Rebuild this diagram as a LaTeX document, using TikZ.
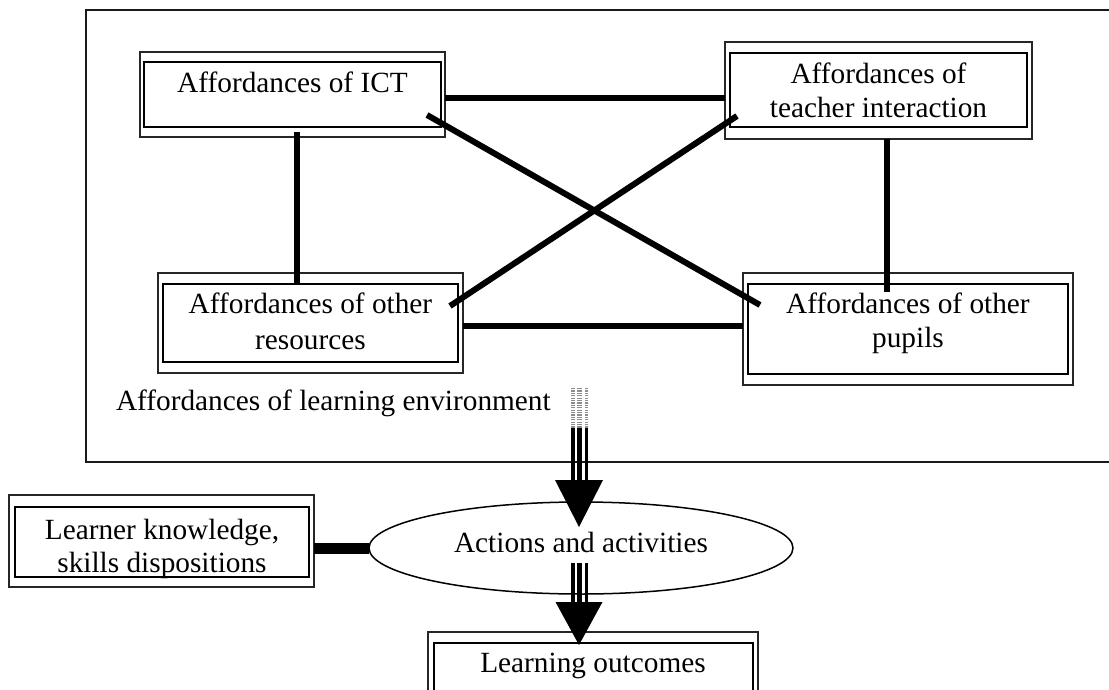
\documentclass[tikz,border=0pt]{standalone}
\usepackage{fontspec}
\setmainfont{Liberation Serif}
\usetikzlibrary{calc,shapes.geometric}
\newcommand\lbfont{\fontsize{29.3}{34}\selectfont}
\begin{document}
\begin{tikzpicture}[x=1pt,y=-1pt,
  outerbox/.style={draw=black!85, line width=1.8pt, rectangle, inner sep=0pt, outer sep=0pt},
  innerbox/.style={draw=black, line width=2.8pt, rectangle, inner sep=0pt, outer sep=0pt},
  lab/.style={font=\lbfont, anchor=base, inner sep=0pt, outer sep=0pt},
  link/.style={line width=6pt, line cap=butt},
  shaftdots/.style={black!45, dash pattern=on 1.2pt off 1.2pt},
  head/.style={fill=black}]
\useasboundingbox (0,0) rectangle (1109,689);
\fill[white] (0,0) rectangle (1109,689);
\clip (0,0) rectangle (1109,689);

% outer frame (learning environment)
\draw[line width=2pt, draw=black!90] (1130,10) -- (86,10) -- (86,462) -- (1130,462);

% ICT
\node[outerbox, minimum width=305pt, minimum height=85pt] (ict) at (292.5,94.5) {};
\node[innerbox, minimum width=297pt, minimum height=65pt] (ict-in) at (292.5,94.5) {};
\node[lab] (ict-t) at (292.5,92) {Affordances of ICT};

% teacher
\node[outerbox, minimum width=307pt, minimum height=97pt] (tea) at (878.5,90.5) {};
\node[innerbox, minimum width=297pt, minimum height=74pt] (tea-in) at (878.5,90) {};
\node[lab] (tea-t1) at (878.5,83) {Affordances of};
\node[lab] (tea-t2) at (878.5,117) {teacher interaction};

% resources
\node[outerbox, minimum width=305pt, minimum height=100pt] (res) at (310.5,323) {};
\node[innerbox, minimum width=295pt, minimum height=78pt] (res-in) at (310.5,323) {};
\node[lab] (res-t1) at (310.5,313) {Affordances of other};
\node[lab] (res-t2) at (310.5,349) {resources};

% pupils
\node[outerbox, minimum width=330pt, minimum height=112pt] (pup) at (908,329) {};
\node[innerbox, minimum width=320pt, minimum height=90pt] (pup-in) at (908,329) {};
\node[lab] (pup-t1) at (908,313) {Affordances of other};
\node[lab] (pup-t2) at (908,347) {pupils};

% environment label
\node[lab, anchor=base west] (env) at (116,410) {Affordances of learning environment};

% links inside the environment
\draw[link] (ict.east |- 0,98) -- (tea.west |- 0,98);
\draw[link] (res.east |- 0,326) -- (pup.west |- 0,326);
\draw[link] ($(ict-in.south -| 297,0)+(0pt,-5pt)$) -- (res-in.north -| 297,0);
\draw[link] (tea.south -| 887,0) -- ($(pup-in.north -| 887,0)+(0pt,-8pt)$);
\draw[link] ($(ict-in.south east)+(-14pt,12pt)$) -- ($(pup-in.north west)+(12pt,-21pt)$);
\draw[link] ($(res-in.north east)+(-8pt,-22pt)$) -- ($(tea-in.south west)+(7pt,11pt)$);

% learner
\node[outerbox, minimum width=305pt, minimum height=92pt] (lrn) at (161.5,541) {};
\node[innerbox, minimum width=294pt, minimum height=70pt] (lrn-in) at (162,542) {};
\node[lab] (lrn-t1) at (162,539) {Learner knowledge,};
\node[lab] (lrn-t2) at (162,572) {skills dispositions};

% actions ellipse
\node[draw, ellipse, line width=1.5pt, minimum width=424pt, minimum height=92pt, inner sep=0pt, outer sep=0pt] (act) at (581,548) {};
\node[lab] (act-t) at (581,552) {Actions and activities};

\draw[line width=11pt] (lrn.east |- act.west) -- (act.west);

% outcomes
\node[outerbox, minimum width=330pt, minimum height=96pt] (out) at (593,680) {};
\node[innerbox, minimum width=319pt, minimum height=84pt] (out-in) at (593.5,685) {};
\node[lab] (out-t) at (593,672) {Learning outcomes};

% arrow 1: environment -> actions
\coordinate (a1top) at (579.5,388);
\coordinate (a1mid) at (579.5,428);
\coordinate (a1hb) at (579.5,482);
\coordinate (a1tip) at ($(act.north)+(-2pt,-25pt)$);
\foreach \dx/\w in {-6.5/3.2, 0/4.2, 6.5/3}{
  \draw[shaftdots, line width=\w pt] ($(a1top)+(\dx pt,0pt)$) -- ($(a1mid)+(\dx pt,0pt)$);
  \draw[line width=\w pt] ($(a1mid)+(\dx pt,0pt)$) -- ($(a1hb)+(\dx pt,0pt)$);
}
\fill[head] (a1tip) -- ++(-24pt,47pt) -- ++(48pt,0pt) -- cycle;

% arrow 2: actions -> outcomes
\coordinate (a2top) at (579.5,563);
\coordinate (a2hb) at (579.5,604);
\coordinate (a2tip) at (579,645);
\foreach \dx/\w in {-6.5/3.2, 0/4.2, 6.5/3}{
  \draw[line width=\w pt] ($(a2top)+(\dx pt,0pt)$) -- ($(a2hb)+(\dx pt,0pt)$);
}
\fill[head] (a2tip) -- ++(-23.5pt,43pt) -- ++(47pt,0pt) -- cycle;
\end{tikzpicture}
\end{document}
